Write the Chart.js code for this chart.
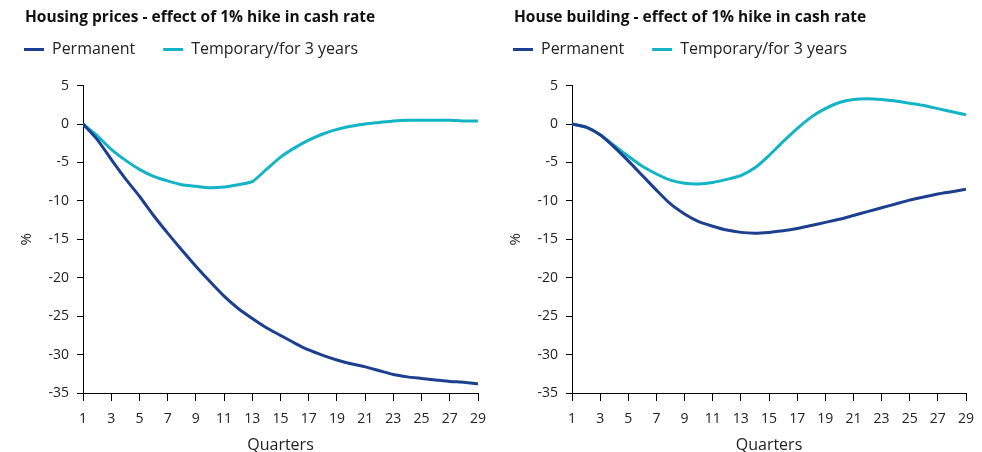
<!DOCTYPE html>
<html>
<head>
<meta charset="utf-8">
<script src="https://cdn.jsdelivr.net/npm/chart.js@4/dist/chart.umd.min.js"></script>
<style>
    body { margin: 0; background: #fff; }
    #wrap { position: relative; width: 982px; height: 452px; }
    .box { position: absolute; top: 0; width: 491px; height: 452px; }
    #box1 { left: 0; }
    #box2 { left: 491px; }
</style>
</head>
<body>
<div id="wrap">
    <div class="box" id="box1"><canvas id="pricesChart" width="491" height="452"></canvas></div>
    <div class="box" id="box2"><canvas id="buildingChart" width="491" height="452"></canvas></div>
</div>
<script>
var quarters = [1, 2, 3, 4, 5, 6, 7, 8, 9, 10, 11, 12, 13, 14, 15, 16, 17, 18, 19, 20, 21, 22, 23, 24, 25, 26, 27, 28, 29];
var seriesNames = ["Permanent", "Temporary/for 3 years"];

var pricesPermanent = [0, -2.0, -4.6, -7.1, -9.4, -11.9, -14.2, -16.4, -18.5, -20.5, -22.4, -24.0, -25.3, -26.5, -27.5, -28.5, -29.4, -30.1, -30.7, -31.2, -31.6, -32.1, -32.6, -32.9, -33.1, -33.3, -33.5, -33.6, -33.8];
var pricesTemporary = [0, -1.5, -3.3, -4.7, -5.9, -6.8, -7.4, -7.9, -8.1, -8.3, -8.2, -7.9, -7.5, -5.9, -4.3, -3.1, -2.1, -1.3, -0.7, -0.3, 0, 0.2, 0.4, 0.5, 0.5, 0.5, 0.5, 0.4, 0.4];

var buildingPermanent = [0, -0.4, -1.4, -3.0, -4.8, -6.7, -8.6, -10.4, -11.7, -12.7, -13.3, -13.8, -14.1, -14.2, -14.1, -13.9, -13.6, -13.2, -12.8, -12.4, -11.9, -11.4, -10.9, -10.4, -9.9, -9.5, -9.1, -8.8, -8.5];
var buildingTemporary = [0, -0.4, -1.4, -2.8, -4.2, -5.5, -6.5, -7.3, -7.7, -7.8, -7.6, -7.2, -6.7, -5.7, -4.1, -2.3, -0.6, 0.9, 2.0, 2.8, 3.2, 3.3, 3.2, 3.0, 2.7, 2.4, 2.0, 1.6, 1.2];

var yMin = -35, yMax = 5, yStep = 5;
var xMin = 1, xMax = 29, xStep = 2;

var navy = "#1c3f8f";
var teal = "#12b4c5";
var font = "'Open Sans', 'Noto Sans', sans-serif";

Chart.defaults.font.family = font;
Chart.defaults.color = "#222";

function toPoints(values) {
    return quarters.map(function (q, i) {
        return { x: q, y: values[i] };
    });
}

// legend sits closer to the title and further left than chart.js wants
var legendNudge = {
    id: "legendNudge",
    afterLayout: function (chart) {
        chart.legend.left -= 29;
        chart.legend.top -= 18;
    }
};

function makeChart(canvasId, title, permanent, temporary, padLeft, padRight) {
    var config = {
        type: "line",
        data: {
            datasets: [{
                label: seriesNames[0],
                data: toPoints(permanent),
                borderColor: navy,
                backgroundColor: navy,
                borderWidth: 3,
                pointRadius: 0,
                tension: 0.2
            },
            {
                label: seriesNames[1],
                data: toPoints(temporary),
                borderColor: teal,
                backgroundColor: teal,
                borderWidth: 3,
                pointRadius: 0,
                tension: 0.2
            }]
        },
        options: {
            responsive: false,
            animation: false,
            devicePixelRatio: 1,
            layout: { padding: { left: padLeft, right: padRight, top: 0, bottom: 0 } },
            plugins: {
                title: {
                    display: true,
                    text: title,
                    align: "start",
                    color: "#111",
                    font: { size: 15.5, weight: "bold" },
                    padding: { top: 8, bottom: 5 }
                },
                legend: {
                    align: "start",
                    labels: {
                        boxWidth: 20,
                        boxHeight: 3,
                        padding: 28,
                        color: "#222",
                        font: { size: 16 },
                        generateLabels: function (chart) {
                            var items = Chart.defaults.plugins.legend.labels.generateLabels(chart);
                            items.forEach(function (it) { it.lineWidth = 0; });
                            return items;
                        }
                    }
                },
                tooltip: { enabled: false }
            },
            scales: {
                x: {
                    type: "linear",
                    min: xMin,
                    max: xMax,
                    ticks: { stepSize: xStep, padding: 10, font: { size: 14 }, color: "#222" },
                    grid: { display: true, drawOnChartArea: false, drawTicks: true, tickLength: 8, color: "#000" },
                    border: { display: true, color: "#000", width: 1 },
                    title: { display: true, text: "Quarters", font: { size: 16 }, color: "#222", padding: { top: 0, bottom: -3 } },
                    afterFit: function (scale) {
                        scale.height = 59;
                        scale.paddingLeft = 0;
                        scale.paddingRight = 0;
                    }
                },
                y: {
                    min: yMin,
                    max: yMax,
                    ticks: { stepSize: yStep, padding: 8, font: { size: 14 }, color: "#222" },
                    grid: { display: true, drawOnChartArea: false, drawTicks: true, tickLength: 6, color: "#000" },
                    border: { display: true, color: "#000", width: 1 },
                    title: { display: true, text: "%", font: { size: 15 }, color: "#222", padding: { top: -7, bottom: 0 } },
                    afterFit: function (scale) { scale.width = 58; }
                }
            }
        },
        plugins: [legendNudge]
    };
    return new Chart(document.getElementById(canvasId), config);
}

makeChart("pricesChart", "Housing prices - effect of 1% hike in cash rate", pricesPermanent, pricesTemporary, 25, 13);
makeChart("buildingChart", "House building - effect of 1% hike in cash rate", buildingPermanent, buildingTemporary, 23, 16);
</script>
</body>
</html>
